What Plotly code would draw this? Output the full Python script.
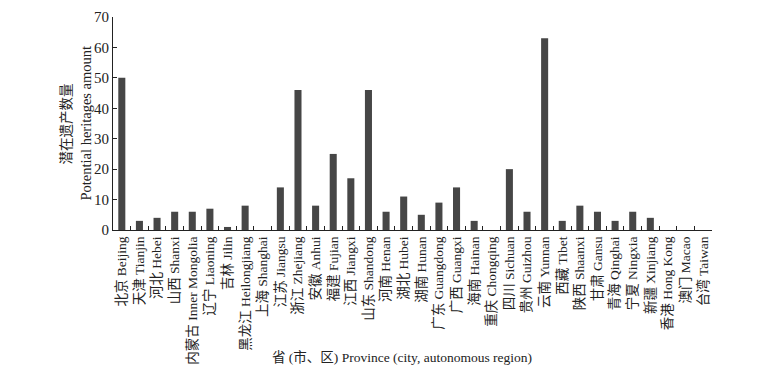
import plotly.graph_objects as go

provinces = ["北京 Beijing", "天津 Tianjin", "河北 Hebei", "山西 Shanxi", "内蒙古 Inner Mongolia",
             "辽宁 Liaoning", "吉林 Jilin", "黑龙江 Heilongjiang", "上海 Shanghai", "江苏 Jiangsu",
             "浙江 Zhejiang", "安徽 Anhui", "福建 Fujian", "江西 Jiangxi", "山东 Shandong",
             "河南 Henan", "湖北 Hubei", "湖南 Hunan", "广东 Guangdong", "广西 Guangxi",
             "海南 Hainan", "重庆 Chongqing", "四川 Sichuan", "贵州 Guizhou", "云南 Yunnan",
             "西藏 Tibet", "陕西 Shaanxi", "甘肃 Gansu", "青海 Qinghai", "宁夏 Ningxia",
             "新疆 Xinjiang", "香港 Hong Kong", "澳门 Macao", "台湾 Taiwan"]
amounts = [50, 3, 4, 6, 6, 7, 1, 8, 0, 14, 46, 8, 25, 17, 46, 6, 11, 5, 9, 14,
           3, 0, 20, 6, 63, 3, 8, 6, 3, 6, 4, 0, 0, 0]
y_ticks = [0, 10, 20, 30, 40, 50, 60, 70]

FONT = "Liberation Serif, 'Noto Sans CJK SC', serif"

fig = go.Figure(go.Bar(x=provinces, y=amounts, marker=dict(color="#464646", line=dict(width=0))))

fig.update_layout(
    width=763, height=372,
    margin=dict(l=113, r=51, t=17, b=142, autoexpand=False),
    paper_bgcolor="white", plot_bgcolor="white",
    bargap=0.6,
    showlegend=False,
    font=dict(family=FONT, size=13, color="#222"),
    xaxis=dict(tickangle=-90, showline=True, linecolor="#222", linewidth=1, automargin=False,
               ticks="inside", tickson="boundaries", ticklen=4, tickcolor="#222",
               tickfont=dict(size=13.5, family=FONT, color="#222"), showgrid=False),
    yaxis=dict(range=[0, 70], tickvals=y_ticks, showline=True, linecolor="#222", linewidth=1,
               automargin=False,
               ticks="inside", ticklen=4, tickcolor="#222", showgrid=False, zeroline=False,
               tickfont=dict(size=15, family=FONT, color="#222")),
    annotations=[
        dict(text="潜在遗产数量", textangle=-90,
             xref="paper", yref="paper", x=-0.0768, y=0.5, xanchor="center", yanchor="middle",
             showarrow=False, font=dict(size=13.5, family=FONT, color="#222")),
        dict(text="Potential heritages amount", textangle=-90,
             xref="paper", yref="paper", x=-0.0467, y=0.5, xanchor="center", yanchor="middle",
             showarrow=False, font=dict(size=14.5, family=FONT, color="#222")),
        dict(text="省 (市、区) Province (city, autonomous region)",
             xref="paper", yref="paper", x=0.482, y=-0.596, xanchor="center", yanchor="middle",
             showarrow=False, font=dict(size=13.5, family=FONT, color="#222")),
    ],
)

fig.write_html("out.html", config={"displayModeBar": False},
               post_script="document.body.style.margin='0';document.body.style.overflow='hidden';")
